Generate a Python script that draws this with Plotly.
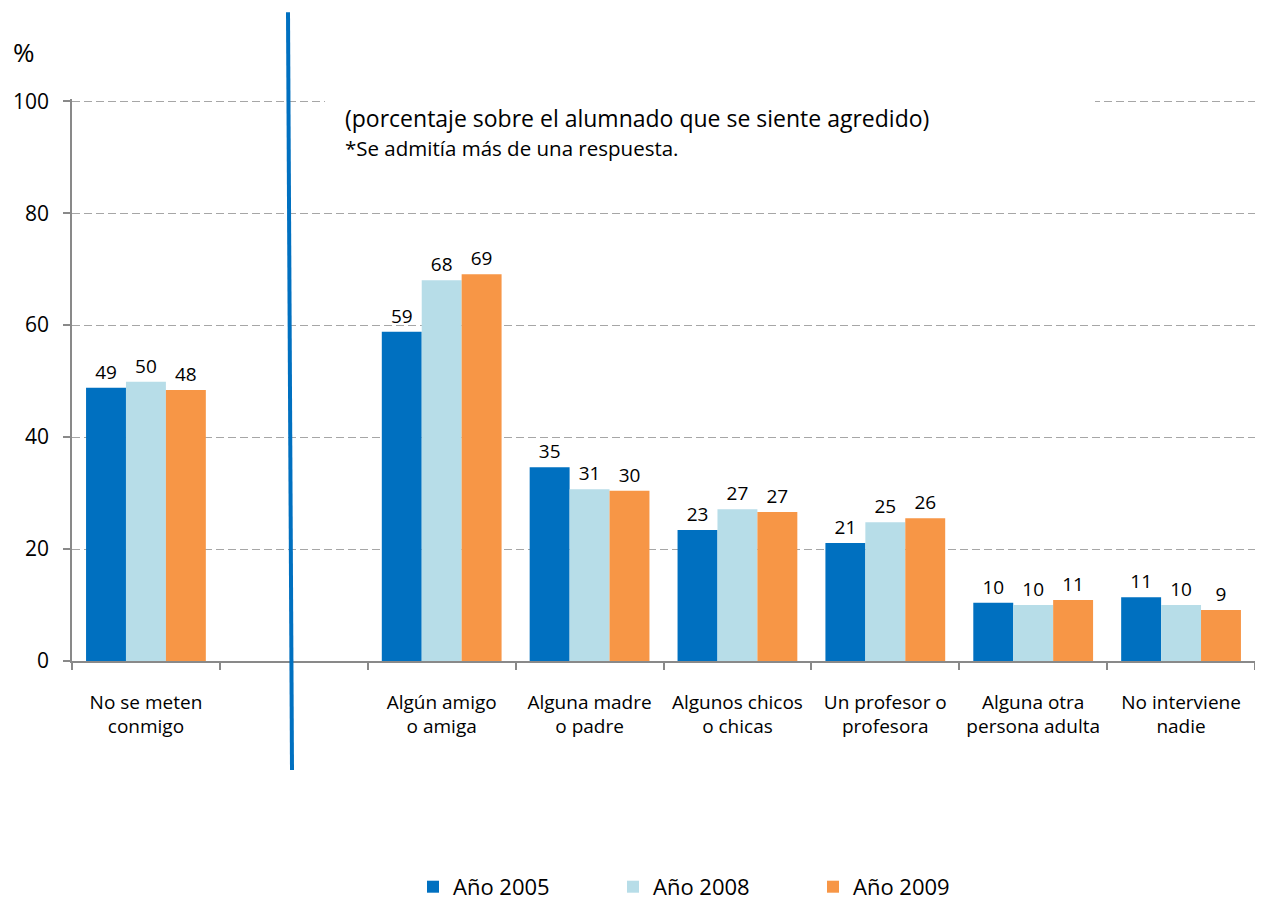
import plotly.graph_objects as go

categories = ["No se meten<br>conmigo", "", "Algún amigo<br>o amiga", "Alguna madre<br>o padre",
              "Algunos chicos<br>o chicas", "Un profesor o<br>profesora",
              "Alguna otra<br>persona adulta", "No interviene<br>nadie"]
y2005 = [48.8, None, 58.8, 34.6, 23.4, 21.1, 10.4, 11.4]
y2008 = [49.9, None, 68.0, 30.7, 27.1, 24.8, 10.0, 10.0]
y2009 = [48.4, None, 69.1, 30.4, 26.6, 25.5, 10.9, 9.1]
series = [("Año 2005", y2005, "#0070C0"), ("Año 2008", y2008, "#B7DDE8"), ("Año 2009", y2009, "#F79646")]

FONT = "Open Sans"
xs = list(range(len(categories)))

# pixel helpers (page has 8px body margin)
PX_L, PX_R, PX_T, PX_B = 72, 1255, 98.76, 661
def px(X):
    return (X - PX_L) / (PX_R - PX_L)
def py(Y):
    return (PX_B - Y) / (PX_B - PX_T)

fig = go.Figure()
for name, vals, col in series:
    fig.add_trace(go.Bar(
        x=xs, y=vals, name=name, marker=dict(color=col, line=dict(width=0)),
        text=[("" if v is None else f"{round(v):d}") for v in vals],
        textposition="outside", textfont=dict(size=19, color="#000", family=FONT),
        cliponaxis=False,
    ))

fig.update_layout(
    width=1255, height=901,
    margin=dict(l=64, r=8, t=91, b=248, pad=0, autoexpand=False),
    paper_bgcolor="white", plot_bgcolor="white",
    barmode="group", bargap=0.19, bargroupgap=0,
    font=dict(family=FONT, size=18, color="#000"),
    showlegend=True,
    legend=dict(orientation="h", x=px(413), xanchor="left", y=py(887), yanchor="middle",
                font=dict(size=22, family=FONT), entrywidth=155, itemwidth=30,
                traceorder="normal", bgcolor="rgba(0,0,0,0)"),
    xaxis=dict(
        range=[-0.5, 7.5], tickmode="array", tickvals=xs, ticktext=categories,
        showline=True, linecolor="#898989", linewidth=1.5, showgrid=False, zeroline=False,
        ticks="", tickfont=dict(size=19, family=FONT), ticklabelstandoff=23, automargin=False,
        minor=dict(tickmode="linear", tick0=-0.5, dtick=1, ticks="outside", ticklen=7,
                   tickcolor="#898989", tickwidth=1.5, showgrid=False),
    ),
    yaxis=dict(
        range=[0, 100.4], tickvals=[0, 20, 40, 60, 80, 100], showline=True, linecolor="#898989",
        linewidth=1.5, ticks="outside", ticklen=7, tickcolor="#898989", tickwidth=1.5,
        showgrid=True, gridcolor="#A6A6A6", griddash="8px,4px", gridwidth=1.3, zeroline=False,
        tickfont=dict(size=21, family=FONT), ticklabelstandoff=10, automargin=False,
    ),
)

# white box interrupting the top gridline behind the note
fig.add_shape(type="rect", xref="x", yref="y", x0=1.211, x1=6.418, y0=97, y1=100.4,
              fillcolor="white", line=dict(width=0), layer="above")

# blue divider line
fig.add_shape(type="line", xref="paper", yref="paper", x0=px(288), y0=py(12), x1=px(292), y1=py(770),
              line=dict(color="#0070C0", width=4), layer="above")

fig.add_annotation(xref="paper", yref="paper", x=px(24), y=py(52), text="%", showarrow=False,
                   font=dict(size=26, family=FONT), xanchor="center", yanchor="middle")
fig.add_annotation(xref="paper", yref="paper", x=px(343), y=py(118),
                   text="(porcentaje sobre el alumnado que se siente agredido)", showarrow=False,
                   font=dict(size=23, family=FONT), xanchor="left", yanchor="middle")
fig.add_annotation(xref="paper", yref="paper", x=px(343), y=py(148),
                   text="*Se admitía más de una respuesta.", showarrow=False,
                   font=dict(size=20.5, family=FONT), xanchor="left", yanchor="middle")

fig.write_html("out.html")
